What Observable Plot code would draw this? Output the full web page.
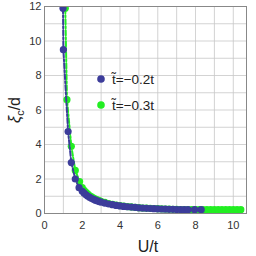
<!DOCTYPE html>
<html>
<head>
<meta charset="utf-8">
<script src="https://cdn.jsdelivr.net/npm/d3@7"></script>
<script src="https://cdn.jsdelivr.net/npm/@observablehq/plot@0.6"></script>
<style>
  html, body { margin: 0; padding: 0; background: #fff; }
  #chart { position: relative; width: 256px; height: 256px; }
</style>
</head>
<body>
<div id="chart"></div>
<script>
// Series: t~ = -0.2t (blue)
const blueU  = [0.98, 1.0, 1.25, 1.42, 1.63, 1.83, 2.0, 2.1, 2.2, 2.3, 2.4, 2.5, 2.6, 2.7, 2.8, 2.9, 3.0,
                3.2, 3.4, 3.6, 3.8, 4.0, 4.2, 4.4, 4.6, 4.8, 5.0, 5.2, 5.4, 5.6, 5.8, 6.0, 6.2, 6.4,
                6.6, 6.8, 7.0, 7.2, 7.4, 7.6, 7.95, 8.3];
const blueXi = [11.9, 9.5, 4.75, 2.95, 2.0, 1.5, 1.29, 1.18, 1.08, 1.0, 0.93, 0.87, 0.82, 0.77, 0.73, 0.69, 0.66,
                0.60, 0.55, 0.51, 0.47, 0.44, 0.41, 0.39, 0.37, 0.35, 0.33, 0.31, 0.30, 0.29, 0.28, 0.27, 0.26, 0.25,
                0.24, 0.24, 0.23, 0.23, 0.22, 0.22, 0.22, 0.22];
// Series: t~ = -0.3t (green)
const greenU  = [1.1, 1.19, 1.42, 1.63, 1.86, 2.0, 2.1, 2.2, 2.3, 2.4, 2.5, 2.6, 2.7, 2.8, 2.9, 3.0,
                 3.2, 3.4, 3.6, 3.8, 4.0, 4.2, 4.4, 4.6, 4.8, 5.0, 5.2, 5.4, 5.6, 5.8, 6.0, 6.2, 6.4,
                 6.6, 6.8, 7.0, 7.2, 7.4, 7.6, 7.8, 8.0, 8.2, 8.4, 8.6, 8.8, 9.0, 9.2, 9.4, 9.6, 9.8,
                 10.0, 10.2, 10.4];
const greenXi = [11.9, 6.6, 3.9, 2.5, 1.85, 1.5, 1.34, 1.22, 1.12, 1.03, 0.96, 0.90, 0.84, 0.79, 0.75, 0.71,
                 0.64, 0.58, 0.53, 0.49, 0.46, 0.43, 0.40, 0.38, 0.36, 0.34, 0.32, 0.31, 0.30, 0.29, 0.28, 0.27, 0.26,
                 0.25, 0.24, 0.24, 0.23, 0.23, 0.23, 0.22, 0.22, 0.22, 0.22, 0.22, 0.22, 0.22, 0.22, 0.22, 0.22, 0.22,
                 0.22, 0.22, 0.22];
const seriesNames = ["t\u0303=\u22120.2t", "t\u0303=\u22120.3t"];
const seriesColors = ["#3c3c9a", "#22ee22"];
const xTicks = [0, 2, 4, 6, 8, 10];
const yTicks = [0, 2, 4, 6, 8, 10, 12];
const xGrid = [1, 2, 3, 4, 5, 6, 7, 8, 9, 10];
const yGrid = [1, 2, 3, 4, 5, 6, 7, 8, 9, 10, 11];

const blue = blueU.map((u, i) => ({U: u, xi: blueXi[i]}));
const green = greenU.map((u, i) => ({U: u, xi: greenXi[i]}));

const svg = Plot.plot({
  width: 256,
  height: 256,
  marginLeft: 44,
  marginRight: 10,
  marginTop: 6,
  marginBottom: 43,
  style: {fontFamily: "Liberation Sans, Arial, sans-serif", fontSize: "11px", color: "#333", background: "#fff"},
  x: {domain: [0, 10.7], ticks: xTicks, tickSize: 0, tickPadding: 8, label: null},
  y: {domain: [0, 12], ticks: yTicks, tickSize: 0, tickPadding: 3, label: null},
  marks: [
    Plot.ruleX(xGrid, {stroke: "#c8c8c8", strokeWidth: 0.8}),
    Plot.ruleY(yGrid, {stroke: "#c8c8c8", strokeWidth: 0.8}),
    Plot.line(green, {x: "U", y: "xi", stroke: seriesColors[1], strokeWidth: 2, strokeDasharray: "5,2,2,2", clip: true}),
    Plot.dot(green, {x: "U", y: "xi", r: 3.6, fill: seriesColors[1], stroke: "none", clip: true}),
    Plot.dot(blue, {x: "U", y: "xi", r: 3.6, fill: seriesColors[0], stroke: "none", clip: true}),
    Plot.line(blue, {x: "U", y: "xi", stroke: seriesColors[0], strokeWidth: 2, strokeDasharray: "5,2,2,2", clip: true}),
    Plot.frame({stroke: "#888", strokeWidth: 1})
  ]
});
document.getElementById("chart").appendChild(svg);

const s = d3.select(svg);
const FONT = "Liberation Sans, Arial, sans-serif";
// x label
s.append("text").attr("x", 148).attr("y", 252).attr("text-anchor", "middle")
  .attr("font-size", 16).attr("fill", "#222").attr("font-family", FONT)
  .text("U/t");
// y label
const yl = s.append("text").attr("transform", "translate(20,110) rotate(-90)").attr("text-anchor", "middle")
  .attr("font-size", 16).attr("fill", "#222").attr("font-family", FONT);
yl.append("tspan").attr("font-style", "italic").text("\u03be");
yl.append("tspan").attr("font-size", 11).attr("dy", 4).text("c");
yl.append("tspan").attr("dy", -4).text("/d");
// legend
const lg = s.append("g").attr("font-family", FONT).attr("font-size", 13.5).attr("fill", "#222").attr("text-anchor", "start");
seriesNames.forEach((name, i) => {
  const cy = 79 + i * 26;
  lg.append("circle").attr("cx", 101).attr("cy", cy).attr("r", 3.8).attr("fill", seriesColors[i]);
  lg.append("text").attr("x", 112).attr("y", cy + 5).attr("text-anchor", "start").text(name);
});
</script>
</body>
</html>
